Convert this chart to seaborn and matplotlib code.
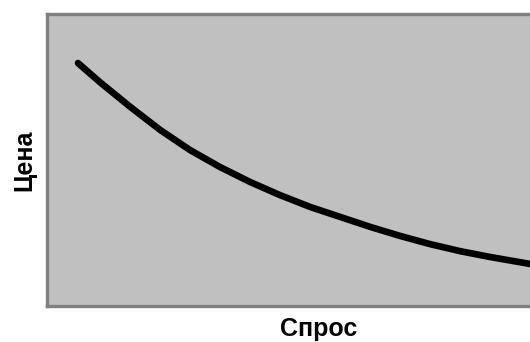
import numpy as np
import pandas as pd
import matplotlib
matplotlib.use("Agg")
import matplotlib.pyplot as plt
import seaborn as sns

# demand curve (axis 0..100 both ways)
demand = [5.7, 9.7, 15.3, 20.8, 26.3, 31.8, 37.3, 42.8, 48.4,
          53.9, 59.4, 64.9, 70.4, 75.9, 81.4, 88.8, 100.0]
price = [83.2, 76.7, 68.2, 60.3, 53.4, 47.6, 42.5, 38.0, 33.9,
         30.5, 27.1, 24.0, 21.2, 18.8, 16.8, 14.4, 11.3]

x_label = "Спрос"
y_label = "Цена"

sns.set_style("white")
plt.rcParams["font.family"] = ["Liberation Sans", "DejaVu Sans"]

df = pd.DataFrame({"demand": demand, "price": price})

fig = plt.figure(figsize=(5.3, 3.42), dpi=100)
ax = fig.add_axes([47 / 530, 36 / 342, 544 / 530, 292 / 342])
ax.set_facecolor("#c0c0c0")

sns.lineplot(
    data=df,
    x="demand",
    y="price",
    color="black",
    linewidth=4.8,
    solid_capstyle="round",
    solid_joinstyle="round",
    ax=ax,
)

ax.set_xlim(0, 100)
ax.set_ylim(0, 100)
ax.set_xticks([])
ax.set_yticks([])

for side in ["left", "top", "bottom", "right"]:
    ax.spines[side].set_visible(True)
    ax.spines[side].set_color("#808080")
    ax.spines[side].set_linewidth(2.4)

ax.set_xlabel(x_label, fontsize=18, fontweight="bold", color="black", labelpad=8)
ax.set_ylabel(y_label, fontsize=18, fontweight="bold", color="black", labelpad=8)

fig.savefig("out.png", dpi=100)
plt.close(fig)
